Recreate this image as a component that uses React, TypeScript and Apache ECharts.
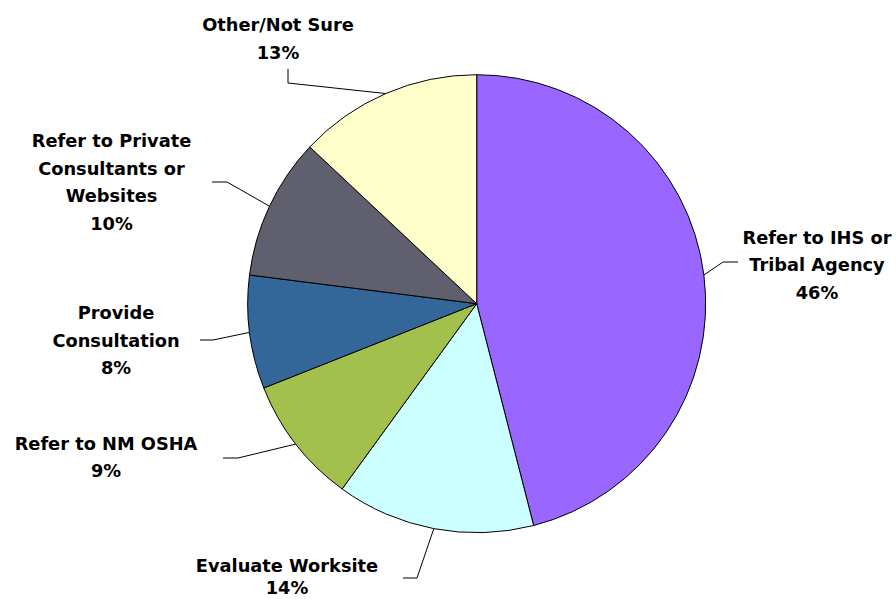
import React, { useEffect, useRef } from "react";
import * as echarts from "echarts";

const categories = [
  "Refer to IHS or Tribal Agency",
  "Evaluate Worksite",
  "Refer to NM OSHA",
  "Provide Consultation",
  "Refer to Private Consultants or Websites",
  "Other/Not Sure",
];
const labelTexts = [
  "Refer to IHS or\nTribal Agency",
  "Evaluate Worksite",
  "Refer to NM OSHA",
  "Provide\nConsultation",
  "Refer to Private\nConsultants or\nWebsites",
  "Other/Not Sure",
];
const values = [46, 14, 9, 8, 10, 13];
const colors = ["#9966FF", "#CCFFFF", "#A4C04C", "#336699", "#5F5F6E", "#FFFFCC"];

// label layout: [labelCenterX, labelCenterY, elbowX, elbowY, endX, endY, lineHeight]
const labelPlaces = [
  [817, 264.5, 723, 262, 738, 262, 27.5],
  [287, 576.5, 417, 578, 403, 578, 22],
  [106, 457, 238, 458, 223, 458, 27.5],
  [116, 340, 213, 340, 200, 340, 27.5],
  [111.5, 182, 227, 182, 212, 182, 27.5],
  [278, 38.5, 288, 83, 288, 69, 27.5],
];

const CX = 476.7;
const CY = 303.7;
const R = 229;

export default function App() {
  const ref = useRef<HTMLDivElement>(null);
  useEffect(() => {
    document.body.style.margin = "0";
    const chart = echarts.init(ref.current!, null, { renderer: "svg" });
    const total = values.reduce((a, b) => a + b, 0);
    const mids: number[] = [];
    let acc = 0;
    values.forEach((v) => {
      mids.push(((acc + v / 2) / total) * Math.PI * 2);
      acc += v;
    });
    chart.setOption({
      animation: false,
      backgroundColor: "#ffffff",
      series: [
        {
          type: "pie",
          center: [CX, CY],
          radius: R,
          startAngle: 90,
          clockwise: true,
          avoidLabelOverlap: false,
          data: categories.map((c, i) => ({
            name: c,
            value: values[i],
            itemStyle: { color: colors[i] },
            label: { lineHeight: labelPlaces[i][6] },
          })),
          itemStyle: { borderColor: "#000000", borderWidth: 1 },
          label: {
            show: true,
            position: "outside",
            formatter: (p: any) => labelTexts[p.dataIndex] + "\n" + values[p.dataIndex] + "%",
            fontFamily: "DejaVu Sans",
            fontWeight: "bold",
            fontSize: 17.8,
            lineHeight: 27.5,
            color: "#000000",
            align: "center",
          },
          labelLine: {
            show: true,
            lineStyle: { color: "#000000", width: 1 },
          },
          labelLayout: (params: any) => {
            const i = params.dataIndex;
            const lp = labelPlaces[i];
            const a = mids[i];
            const sx = CX + R * Math.sin(a);
            const sy = CY - R * Math.cos(a);
            return {
              x: lp[0],
              y: lp[1],
              align: "center",
              verticalAlign: "middle",
              labelLinePoints: [
                [sx, sy],
                [lp[2], lp[3]],
                [lp[4], lp[5]],
              ],
            };
          },
          emphasis: { disabled: true },
        },
      ],
    });
    return () => chart.dispose();
  }, []);
  return <div ref={ref} style={{ width: 896, height: 599 }} />;
}
